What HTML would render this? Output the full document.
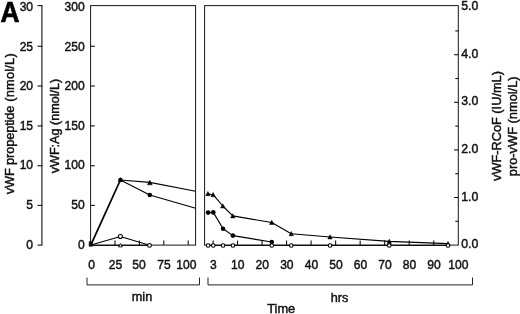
<!DOCTYPE html>
<html><head><meta charset="utf-8"><title>Figure A</title>
<style>
html,body{margin:0;padding:0;background:#fff;}
body{width:520px;height:314px;overflow:hidden;}
svg{display:block;font-family:"Liberation Sans",sans-serif;fill:#111;}
text{stroke:#111;stroke-width:0.45px;}
</style></head><body>
<svg width="520" height="314" viewBox="0 0 520 314">
<rect x="0" y="0" width="520" height="314" fill="#fff" stroke="none"/>
<line x1="41.9" y1="5.6" x2="41.9" y2="245.1" stroke="#111" stroke-width="1.1"/>
<line x1="37.5" y1="245.1" x2="42.4" y2="245.1" stroke="#111" stroke-width="1.1"/>
<text transform="translate(33.1,248.6) scale(0.93,1)" text-anchor="end" font-size="13" >0</text>
<line x1="37.5" y1="205.4" x2="42.4" y2="205.4" stroke="#111" stroke-width="1.1"/>
<text transform="translate(33.1,208.98) scale(0.93,1)" text-anchor="end" font-size="13" >5</text>
<line x1="37.5" y1="165.75" x2="42.4" y2="165.75" stroke="#111" stroke-width="1.1"/>
<text transform="translate(33.1,169.36) scale(0.93,1)" text-anchor="end" font-size="13" >10</text>
<line x1="37.5" y1="125.9" x2="42.4" y2="125.9" stroke="#111" stroke-width="1.1"/>
<text transform="translate(33.1,129.74) scale(0.93,1)" text-anchor="end" font-size="13" >15</text>
<line x1="37.5" y1="86" x2="42.4" y2="86" stroke="#111" stroke-width="1.1"/>
<text transform="translate(33.1,90.12) scale(0.93,1)" text-anchor="end" font-size="13" >20</text>
<line x1="37.5" y1="46.25" x2="42.4" y2="46.25" stroke="#111" stroke-width="1.1"/>
<text transform="translate(33.1,50.5) scale(0.93,1)" text-anchor="end" font-size="13" >25</text>
<line x1="37.5" y1="5.6" x2="42.4" y2="5.6" stroke="#111" stroke-width="1.1"/>
<text transform="translate(33.1,10.880000000000024) scale(0.93,1)" text-anchor="end" font-size="13" >30</text>
<rect x="90.6" y="5.6" width="105.0" height="239.5" fill="none" stroke="#161616" stroke-width="1.0"/>
<text transform="translate(84.7,248.6) scale(0.93,1)" text-anchor="end" font-size="13" >0</text>
<line x1="90.6" y1="205.4" x2="94.8" y2="205.4" stroke="#111" stroke-width="1.1"/>
<text transform="translate(84.7,208.98) scale(0.93,1)" text-anchor="end" font-size="13" >50</text>
<line x1="90.6" y1="165.75" x2="94.8" y2="165.75" stroke="#111" stroke-width="1.1"/>
<text transform="translate(84.7,169.36) scale(0.93,1)" text-anchor="end" font-size="13" >100</text>
<line x1="90.6" y1="125.9" x2="94.8" y2="125.9" stroke="#111" stroke-width="1.1"/>
<text transform="translate(84.7,129.74) scale(0.93,1)" text-anchor="end" font-size="13" >150</text>
<line x1="90.6" y1="86" x2="94.8" y2="86" stroke="#111" stroke-width="1.1"/>
<text transform="translate(84.7,90.12) scale(0.93,1)" text-anchor="end" font-size="13" >200</text>
<line x1="90.6" y1="46.25" x2="94.8" y2="46.25" stroke="#111" stroke-width="1.1"/>
<text transform="translate(84.7,50.5) scale(0.93,1)" text-anchor="end" font-size="13" >250</text>
<text transform="translate(84.7,10.880000000000024) scale(0.93,1)" text-anchor="end" font-size="13" >300</text>
<line x1="115.0" y1="245.1" x2="115.0" y2="240.5" stroke="#111" stroke-width="1.1"/>
<text transform="translate(115.5,268.6) scale(0.93,1)" text-anchor="middle" font-size="13" >25</text>
<line x1="139.39999999999998" y1="245.1" x2="139.39999999999998" y2="240.5" stroke="#111" stroke-width="1.1"/>
<text transform="translate(139,268.6) scale(0.93,1)" text-anchor="middle" font-size="13" >50</text>
<line x1="163.79999999999998" y1="245.1" x2="163.79999999999998" y2="240.5" stroke="#111" stroke-width="1.1"/>
<text transform="translate(164.0,268.6) scale(0.93,1)" text-anchor="middle" font-size="13" >75</text>
<line x1="188.2" y1="245.1" x2="188.2" y2="240.5" stroke="#111" stroke-width="1.1"/>
<text transform="translate(186.4,268.6) scale(0.93,1)" text-anchor="middle" font-size="13" >100</text>
<text transform="translate(91.5,268.6) scale(0.93,1)" text-anchor="middle" font-size="13" >0</text>
<rect x="204.6" y="5.6" width="253.70000000000002" height="239.5" fill="none" stroke="#161616" stroke-width="1.0"/>
<line x1="213.1" y1="245.1" x2="213.1" y2="240.5" stroke="#111" stroke-width="1.1"/>
<text transform="translate(213.3,268.6) scale(0.93,1)" text-anchor="middle" font-size="13" >3</text>
<line x1="237.5" y1="245.1" x2="237.5" y2="240.5" stroke="#111" stroke-width="1.1"/>
<text transform="translate(237.8,268.6) scale(0.93,1)" text-anchor="middle" font-size="13" >10</text>
<line x1="262.03" y1="245.1" x2="262.03" y2="240.5" stroke="#111" stroke-width="1.1"/>
<text transform="translate(262.33,268.6) scale(0.93,1)" text-anchor="middle" font-size="13" >20</text>
<line x1="286.56" y1="245.1" x2="286.56" y2="240.5" stroke="#111" stroke-width="1.1"/>
<text transform="translate(286.86,268.6) scale(0.93,1)" text-anchor="middle" font-size="13" >30</text>
<line x1="311.09000000000003" y1="245.1" x2="311.09000000000003" y2="240.5" stroke="#111" stroke-width="1.1"/>
<text transform="translate(311.39000000000004,268.6) scale(0.93,1)" text-anchor="middle" font-size="13" >40</text>
<line x1="335.62" y1="245.1" x2="335.62" y2="240.5" stroke="#111" stroke-width="1.1"/>
<text transform="translate(335.92,268.6) scale(0.93,1)" text-anchor="middle" font-size="13" >50</text>
<line x1="360.15" y1="245.1" x2="360.15" y2="240.5" stroke="#111" stroke-width="1.1"/>
<text transform="translate(360.45,268.6) scale(0.93,1)" text-anchor="middle" font-size="13" >60</text>
<line x1="384.68" y1="245.1" x2="384.68" y2="240.5" stroke="#111" stroke-width="1.1"/>
<text transform="translate(384.98,268.6) scale(0.93,1)" text-anchor="middle" font-size="13" >70</text>
<line x1="409.21000000000004" y1="245.1" x2="409.21000000000004" y2="240.5" stroke="#111" stroke-width="1.1"/>
<text transform="translate(409.51000000000005,268.6) scale(0.93,1)" text-anchor="middle" font-size="13" >80</text>
<line x1="433.74" y1="245.1" x2="433.74" y2="240.5" stroke="#111" stroke-width="1.1"/>
<text transform="translate(434.04,268.6) scale(0.93,1)" text-anchor="middle" font-size="13" >90</text>
<text transform="translate(458.3,268.6) scale(0.93,1)" text-anchor="middle" font-size="13" >100</text>
<text transform="translate(461.2,248.4) scale(0.95,1)" text-anchor="start" font-size="13" >0.0</text>
<line x1="458.3" y1="221.29999999999998" x2="455.3" y2="221.29999999999998" stroke="#111" stroke-width="1.1"/>
<line x1="458.3" y1="197.5" x2="454.1" y2="197.5" stroke="#111" stroke-width="1.1"/>
<text transform="translate(461.2,200.72) scale(0.95,1)" text-anchor="start" font-size="13" >1.0</text>
<line x1="458.3" y1="173.7" x2="455.3" y2="173.7" stroke="#111" stroke-width="1.1"/>
<line x1="458.3" y1="149.89999999999998" x2="454.1" y2="149.89999999999998" stroke="#111" stroke-width="1.1"/>
<text transform="translate(461.2,153.04000000000002) scale(0.95,1)" text-anchor="start" font-size="13" >2.0</text>
<line x1="458.3" y1="126.1" x2="455.3" y2="126.1" stroke="#111" stroke-width="1.1"/>
<line x1="458.3" y1="102.29999999999998" x2="454.1" y2="102.29999999999998" stroke="#111" stroke-width="1.1"/>
<text transform="translate(461.2,105.36000000000001) scale(0.95,1)" text-anchor="start" font-size="13" >3.0</text>
<line x1="458.3" y1="78.5" x2="455.3" y2="78.5" stroke="#111" stroke-width="1.1"/>
<line x1="458.3" y1="54.69999999999999" x2="454.1" y2="54.69999999999999" stroke="#111" stroke-width="1.1"/>
<text transform="translate(461.2,57.68000000000001) scale(0.95,1)" text-anchor="start" font-size="13" >4.0</text>
<line x1="458.3" y1="30.899999999999977" x2="455.3" y2="30.899999999999977" stroke="#111" stroke-width="1.1"/>
<text transform="translate(461.2,10.0) scale(0.95,1)" text-anchor="start" font-size="13" >5.0</text>
<polyline points="87,277.5 87,284.9 199.5,284.9 199.5,277.5" fill="none" stroke="#222" stroke-width="1.0" stroke-linejoin="round"/>
<polyline points="208,277.5 208,284.9 472.5,284.9 472.5,277.5" fill="none" stroke="#222" stroke-width="1.0" stroke-linejoin="round"/>
<text transform="translate(142.0,301.4) scale(0.975,1)" text-anchor="middle" font-size="13" >min</text>
<text transform="translate(339.6,301.8) scale(0.975,1)" text-anchor="middle" font-size="13" >hrs</text>
<text transform="translate(281.2,313.0) scale(0.985,1)" text-anchor="middle" font-size="13" >Time</text>
<text transform="translate(14.4,194.2) rotate(-90) scale(1,1.0)" font-size="12.8"><tspan letter-spacing="-0.15">vWF </tspan><tspan letter-spacing="-0.12">propeptide</tspan><tspan letter-spacing="0.3"> </tspan><tspan letter-spacing="0.22">(nmol/L)</tspan></text>
<text transform="translate(58.9,173.3) rotate(-90) scale(1,1.0)" font-size="12.6">vWF:Ag (nmol/L)</text>
<text transform="translate(501.0,181.0) rotate(-90) scale(1,1.0)" font-size="12.77">vWF-RCoF (IU/mL)</text>
<text transform="translate(517.2,176.2) rotate(-90) scale(1,1.0)" font-size="12.83">pro-vWF (nmol/L)</text>
<text x="0.6" y="21.7" font-size="29.6" font-weight="bold" textLength="19.0" lengthAdjust="spacingAndGlyphs" fill="#000" style="stroke:#000;stroke-width:0.7px">A</text>
<polyline points="91,244.6 120.4,180" fill="none" stroke="#000" stroke-width="1.75" stroke-linejoin="round"/>
<polyline points="120.4,180 149.8,182.4 195.6,191.3" fill="none" stroke="#000" stroke-width="1.15" stroke-linejoin="round"/>
<polyline points="120.4,180 149.8,195 195.6,208.3" fill="none" stroke="#000" stroke-width="1.15" stroke-linejoin="round"/>
<polyline points="91,245 120.4,236.5 149.5,245.3" fill="none" stroke="#000" stroke-width="1.15" stroke-linejoin="round"/>
<polyline points="91,245.35 149.5,245.35" fill="none" stroke="#000" stroke-width="1.0" stroke-linejoin="round"/>
<rect x="88.8" y="241.4" width="4" height="5.2" fill="#111"/>
<circle cx="120.4" cy="180" r="2.1999999999999997" fill="#000"/>
<polygon points="120.4,177.6 122.4,181.4 118.4,181.4" fill="#000" stroke="#000" stroke-width="0.5" stroke-linejoin="round"/>
<polygon points="149.8,180.2 152.20000000000002,184.76 147.4,184.76" fill="#000" stroke="#000" stroke-width="0.5" stroke-linejoin="round"/>
<circle cx="149.8" cy="195" r="2.3" fill="#000"/>
<circle cx="120.4" cy="236.5" r="2.0" fill="#fff" stroke="#000" stroke-width="1.1"/>
<polygon points="120.4,243.6 122.3,246.9 118.5,246.9" fill="#fff" stroke="#000" stroke-width="0.9"/>
<circle cx="149.5" cy="245.4" r="1.9" fill="#fff" stroke="#000" stroke-width="1.1"/>
<polyline points="207.9,193.7 213.1,194.7 222.8,206 232.8,215.9 271.75,222.5 291.25,233.75 330,237 389.25,241.4 448,243.6" fill="none" stroke="#000" stroke-width="1.15" stroke-linejoin="round"/>
<polyline points="208.1,212.6 213.3,212.4 223.1,228.75 232.9,235.6 271.75,242" fill="none" stroke="#000" stroke-width="1.15" stroke-linejoin="round"/>
<polyline points="208.1,245.35 448,245.35" fill="none" stroke="#000" stroke-width="1.0" stroke-linejoin="round"/>
<polygon points="207.9,191.5 210.1,195.67999999999998 205.70000000000002,195.67999999999998" fill="#000" stroke="#000" stroke-width="0.5" stroke-linejoin="round"/>
<polygon points="213.1,192.5 215.29999999999998,196.67999999999998 210.9,196.67999999999998" fill="#000" stroke="#000" stroke-width="0.5" stroke-linejoin="round"/>
<polygon points="222.8,203.8 225.0,207.98 220.60000000000002,207.98" fill="#000" stroke="#000" stroke-width="0.5" stroke-linejoin="round"/>
<polygon points="232.8,213.70000000000002 235.0,217.88 230.60000000000002,217.88" fill="#000" stroke="#000" stroke-width="0.5" stroke-linejoin="round"/>
<polygon points="271.75,220.3 273.95,224.48 269.55,224.48" fill="#000" stroke="#000" stroke-width="0.5" stroke-linejoin="round"/>
<polygon points="291.25,231.55 293.45,235.73 289.05,235.73" fill="#000" stroke="#000" stroke-width="0.5" stroke-linejoin="round"/>
<polygon points="330,234.8 332.2,238.98 327.8,238.98" fill="#000" stroke="#000" stroke-width="0.5" stroke-linejoin="round"/>
<polygon points="389.25,239.20000000000002 391.45,243.38 387.05,243.38" fill="#000" stroke="#000" stroke-width="0.5" stroke-linejoin="round"/>
<polygon points="448,241.4 450.2,245.57999999999998 445.8,245.57999999999998" fill="#000" stroke="#000" stroke-width="0.5" stroke-linejoin="round"/>
<circle cx="208.1" cy="212.6" r="2.3" fill="#000"/>
<circle cx="213.3" cy="212.4" r="2.3" fill="#000"/>
<circle cx="223.1" cy="228.75" r="2.3" fill="#000"/>
<circle cx="232.9" cy="235.6" r="2.3" fill="#000"/>
<circle cx="271.75" cy="242" r="2.3" fill="#000"/>
<circle cx="208.1" cy="245.5" r="1.8" fill="#fff" stroke="#000" stroke-width="1.1"/>
<circle cx="213.25" cy="245.5" r="1.8" fill="#fff" stroke="#000" stroke-width="1.1"/>
<circle cx="223.1" cy="245.5" r="1.8" fill="#fff" stroke="#000" stroke-width="1.1"/>
<circle cx="232.9" cy="245.5" r="1.8" fill="#fff" stroke="#000" stroke-width="1.1"/>
<circle cx="271.75" cy="245.5" r="1.8" fill="#fff" stroke="#000" stroke-width="1.1"/>
<circle cx="291.25" cy="245.5" r="1.8" fill="#fff" stroke="#000" stroke-width="1.1"/>
<circle cx="330" cy="245.5" r="1.8" fill="#fff" stroke="#000" stroke-width="1.1"/>
<circle cx="389.25" cy="245.5" r="1.8" fill="#fff" stroke="#000" stroke-width="1.1"/>
<circle cx="448" cy="245.5" r="1.8" fill="#fff" stroke="#000" stroke-width="1.1"/>
</svg>
</body></html>
